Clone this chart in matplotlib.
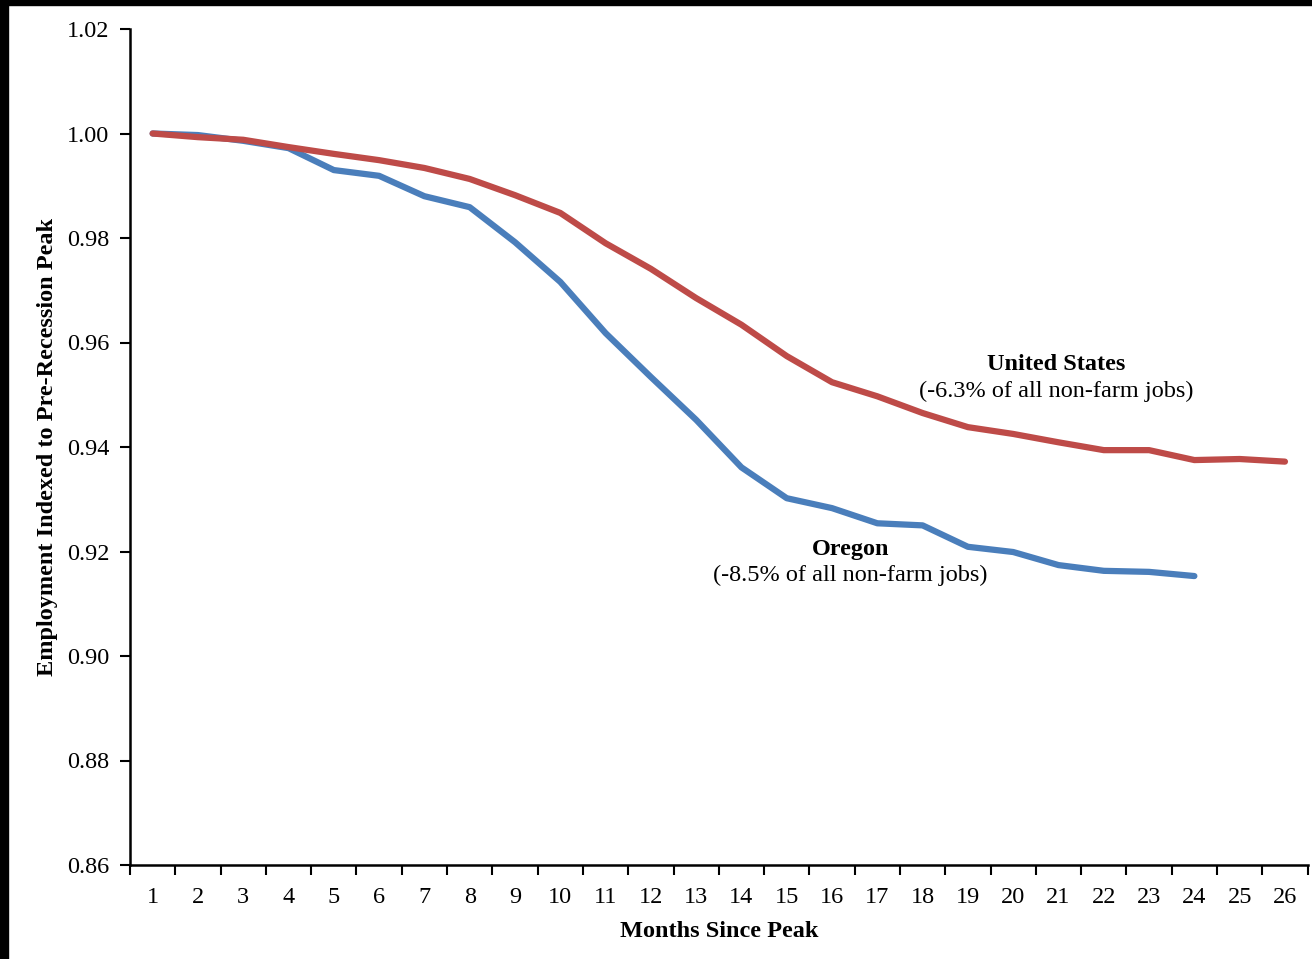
import matplotlib
matplotlib.use('Agg')
import matplotlib.pyplot as plt
from matplotlib.patches import Rectangle
from matplotlib.ticker import FixedLocator, FormatStrFormatter

plt.rcParams['font.family'] = ['Liberation Serif', 'DejaVu Serif']

## Data
months = list(range(1, 27))
us_index = [1.0000, 0.9993, 0.9988, 0.9974, 0.9961, 0.9949, 0.9934, 0.9913,
            0.9882, 0.9848, 0.9790, 0.9741, 0.9685, 0.9634, 0.9574, 0.9524,
            0.9497, 0.9465, 0.9438, 0.9425, 0.9409, 0.9394, 0.9394, 0.9375,
            0.9377, 0.9372]
oregon_index = [1.0000, 0.9997, 0.9986, 0.9972, 0.9930, 0.9919, 0.9880, 0.9859,
                0.9792, 0.9716, 0.9618, 0.9534, 0.9452, 0.9361, 0.9302, 0.9283,
                0.9254, 0.9250, 0.9209, 0.9199, 0.9174, 0.9163, 0.9161, 0.9153]
y_ticks = [0.86, 0.88, 0.90, 0.92, 0.94, 0.96, 0.98, 1.00, 1.02]

fig = plt.figure(figsize=(13.12, 9.59), dpi=100)
ax = fig.add_axes([130 / 1312, 94 / 959, 1177.6 / 1312, 836 / 959])

ax.plot(months[:len(oregon_index)], oregon_index, color='#4A7EBB', lw=4.5,
        solid_capstyle='round', zorder=3)
ax.plot(months, us_index, color='#BE4B48', lw=4.5,
        solid_capstyle='round', zorder=4)

ax.set_xlim(0.5, 26.5)
ax.set_ylim(0.86, 1.02)

# y axis
ax.yaxis.set_major_locator(FixedLocator(y_ticks))
ax.yaxis.set_major_formatter(FormatStrFormatter('%.2f'))
ax.tick_params(axis='y', direction='out', length=7, width=1.5, labelsize=17.5, pad=8)

# x axis: labels at month centres, tick marks at category borders
ax.set_xticks(months)
ax.set_xticklabels([str(m) for m in months])
ax.set_xticks([m + 0.5 for m in range(0, 27)], minor=True)
ax.tick_params(axis='x', which='major', length=0, labelsize=17.5, pad=16)
ax.tick_params(axis='x', which='minor', direction='out', length=7, width=1.5)

for side in ['top', 'right']:
    ax.spines[side].set_visible(False)
for side in ['left', 'bottom']:
    ax.spines[side].set_linewidth(1.8)

ax.set_xlabel('Months Since Peak', fontsize=17.5, fontweight='bold', labelpad=9)
ax.set_ylabel('Employment Indexed to Pre-Recession Peak', fontsize=17.5,
              fontweight='bold', labelpad=6)

## Series annotations
ax.text(20.95, 0.9558, 'United States', ha='center', va='center',
        fontsize=17.5, fontweight='bold')
ax.text(20.95, 0.9506, '(-6.3% of all non-farm jobs)', ha='center', va='center',
        fontsize=17.5)
ax.text(16.4, 0.9204, 'Oregon', ha='center', va='center',
        fontsize=17.5, fontweight='bold')
ax.text(16.4, 0.9154, '(-8.5% of all non-farm jobs)', ha='center', va='center',
        fontsize=17.5)

## Black frame strips seen on the top and left edges of the image
fig.patches.append(Rectangle((0, 0), 8 / 1312, 1, transform=fig.transFigure,
                             color='black', zorder=10))
fig.patches.append(Rectangle((0, 1 - 5 / 959), 1, 5 / 959, transform=fig.transFigure,
                             color='black', zorder=10))

fig.savefig('out.png', dpi=100)
